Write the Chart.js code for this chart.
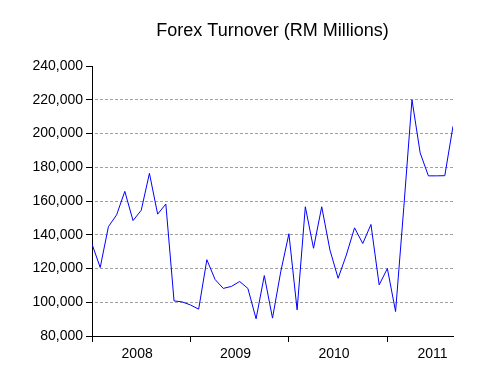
<!DOCTYPE html>
<html><head><meta charset="utf-8">
<script src="https://cdn.jsdelivr.net/npm/chart.js@4"></script>
<style>html,body{margin:0;padding:0;background:#fff}</style>
</head><body>
<canvas id="c" width="499" height="384"></canvas>
<script>
const chartTitle = 'Forex Turnover (RM Millions)';
const categories = [
 'Jan 2008','Feb 2008','Mar 2008','Apr 2008','May 2008','Jun 2008','Jul 2008','Aug 2008','Sep 2008','Oct 2008','Nov 2008','Dec 2008',
 'Jan 2009','Feb 2009','Mar 2009','Apr 2009','May 2009','Jun 2009','Jul 2009','Aug 2009','Sep 2009','Oct 2009','Nov 2009','Dec 2009',
 'Jan 2010','Feb 2010','Mar 2010','Apr 2010','May 2010','Jun 2010','Jul 2010','Aug 2010','Sep 2010','Oct 2010','Nov 2010','Dec 2010',
 'Jan 2011','Feb 2011','Mar 2011','Apr 2011','May 2011','Jun 2011','Jul 2011','Aug 2011','Sep 2011'
];
const turnover = [
 134500,120600,144800,151800,165700,148400,154500,176400,152200,158200,100800,100200,
 98400,95900,125200,113500,108200,109400,112300,108200,90200,115800,90600,118000,
 140600,95500,156600,132000,156600,131000,114200,128000,144100,134800,146100,110300,
 120000,94500,156000,220000,188500,174900,174900,175000,204300
];
const yearLabels = ['2008','2009','2010','2011'];
const yTicks = [80000,100000,120000,140000,160000,180000,200000,220000,240000];

const yearStarts = categories.map((c,i)=>c.startsWith('Jan')?i:-1).filter(i=>i>=0);
const labelOffset = 5.5;
const xTicks = [];
yearStarts.forEach((s,k)=>{
  xTicks.push({value:s, label:''});
  xTicks.push({value:s+labelOffset, label:yearLabels[k]});
});

Chart.defaults.font.family = "'Liberation Sans', Arial, sans-serif";
Chart.defaults.font.size = 14;
Chart.defaults.color = '#000';

const titleCenter = {
  id:'titleCenter',
  afterLayout(chart){
    const t = chart.titleBlock, a = chart.chartArea;
    if (t && a) { t.left = a.left; t.right = a.right; t.width = a.right - a.left; }
  }
};

new Chart(document.getElementById('c'), {
  type:'line',
  data:{
    datasets:[{
      label:chartTitle,
      data: turnover.map((v,i)=>({x:i, y:v})),
      borderColor:'#0000ff',
      borderWidth:1,
      pointRadius:0,
      tension:0,
      fill:false
    }]
  },
  options:{
    responsive:false,
    animation:false,
    devicePixelRatio:1,
    layout:{padding:{left:0,right:46,top:0,bottom:0}},
    plugins:{
      legend:{display:false},
      tooltip:{enabled:false},
      title:{display:true, text:chartTitle, color:'#000', font:{size:18, weight:'normal'}, padding:{top:20,bottom:24.4}}
    },
    scales:{
      x:{
        type:'linear', min:0, max:categories.length-1,
        afterBuildTicks: s => { s.ticks = xTicks.map(t=>({value:t.value})); },
        afterFit: s => { s.height = 48; },
        ticks:{autoSkip:false, maxRotation:0, minRotation:0, padding:4, color:'#000',
          callback:(v)=>{ const t = xTicks.find(t=>t.value===v); return t ? t.label : ''; }},
        grid:{drawOnChartArea:false, tickLength:6, color:'#000',
          tickColor: ctx => { const t = ctx.tick && xTicks.find(x=>x.value===ctx.tick.value); return (t && t.label==='') ? '#000' : 'rgba(0,0,0,0)'; }},
        border:{color:'#000', width:1}
      },
      y:{
        min:80000, max:240000,
        afterBuildTicks: s => { s.ticks = yTicks.map(v=>({value:v})); },
        afterFit: s => { s.width = 92; },
        ticks:{padding:3, color:'#000', callback: v => Number(v).toLocaleString('en-US')},
        grid:{tickLength:6, tickColor:'#000', lineWidth:1,
          color: ctx => (ctx.tick && (ctx.tick.value===80000 || ctx.tick.value===240000)) ? 'rgba(0,0,0,0)' : '#a0a0a0'},
        border:{color:'#000', width:1, dash:[3,2], dashOffset:-2}
      }
    }
  },
  plugins:[titleCenter]
});
</script>
</body></html>
